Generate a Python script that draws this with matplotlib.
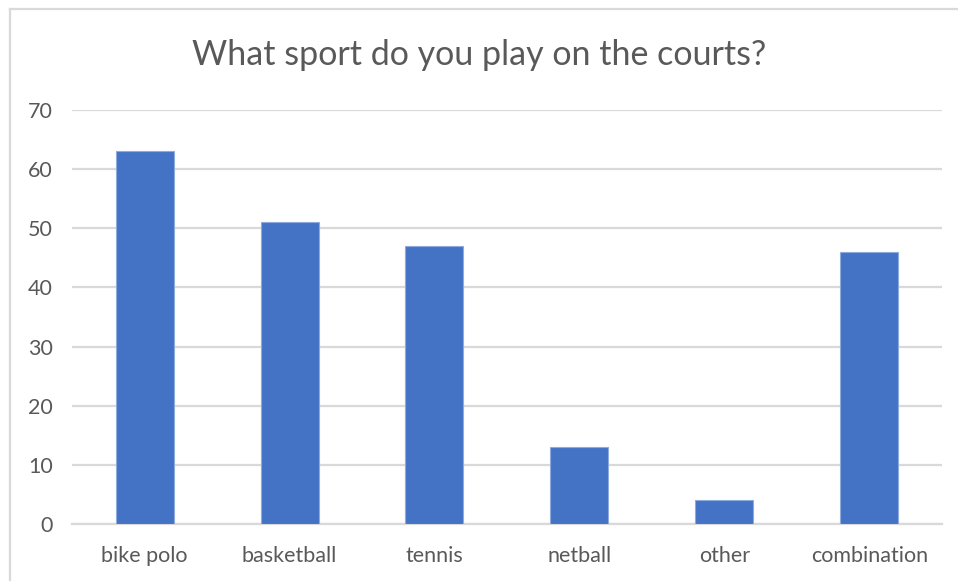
import matplotlib.pyplot as plt
from matplotlib.lines import Line2D

sports = ['bike polo', 'basketball', 'tennis', 'netball', 'other', 'combination']
answers = [63, 51, 47, 13, 4, 46]
y_ticks = [0, 10, 20, 30, 40, 50, 60, 70]

plt.rcParams['font.family'] = ['Lato', 'DejaVu Sans']

fig = plt.figure(figsize=(9.58, 5.81), dpi=100)
ax = fig.add_axes([72 / 958, 1 - 524 / 581, 870 / 958, 414 / 581])

x = range(len(sports))
ax.bar(x, answers, width=0.4, color='#4472C4', edgecolor='#8FAADC',
       linewidth=0.8, zorder=3)

ax.set_xlim(-0.5, len(sports) - 0.5)
ax.set_ylim(0, 70)
ax.set_yticks(y_ticks)
ax.set_xticks(list(x))
ax.set_xticklabels(sports)
ax.yaxis.grid(True, color='#D9D9D9', linewidth=1.6, zorder=0)
ax.set_axisbelow(True)

for side in ['top', 'right', 'left']:
    ax.spines[side].set_visible(False)
ax.spines['bottom'].set_color('#D9D9D9')
ax.spines['bottom'].set_linewidth(1.6)
ax.spines['bottom'].set_zorder(1)

ax.tick_params(axis='both', length=0, labelsize=15.5, labelcolor='#595959')
ax.tick_params(axis='y', pad=14)
ax.tick_params(axis='x', pad=16)

fig.text(0.5, 1 - 55 / 581, 'What sport do you play on the courts?',
         ha='center', va='center', fontsize=24.5, color='#595959')

# chart frame, only top and left edges are inside the image
fig.add_artist(Line2D([10 / 958, 10 / 958], [0, 1 - 9 / 581],
                      transform=fig.transFigure, color='#D9D9D9', linewidth=1.6))
fig.add_artist(Line2D([10 / 958, 1], [1 - 9 / 581, 1 - 9 / 581],
                      transform=fig.transFigure, color='#D9D9D9', linewidth=1.6))

fig.savefig('out.png', dpi=100)
